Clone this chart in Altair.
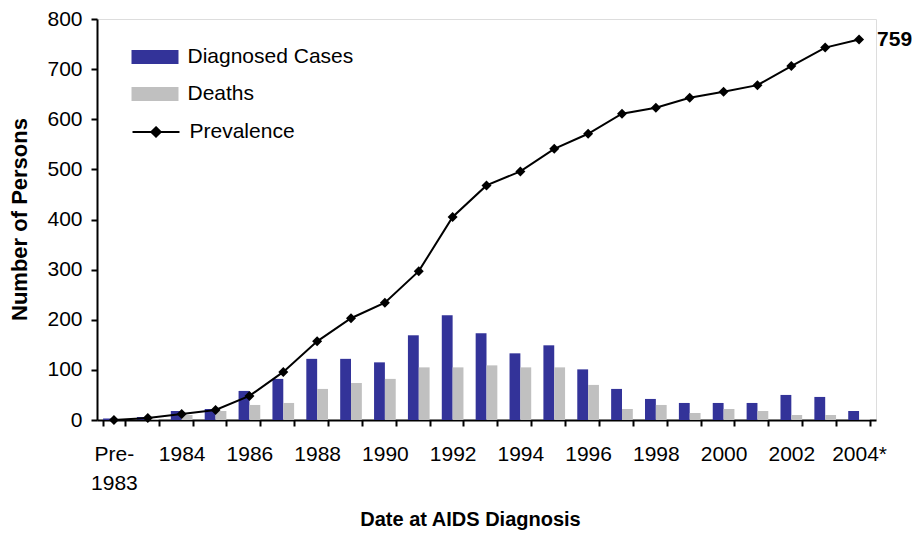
import altair as alt
import pandas as pd

FONT = "Liberation Sans"

categories = ["Pre-1983", "1983", "1984", "1985", "1986", "1987", "1988", "1989",
              "1990", "1991", "1992", "1993", "1994", "1995", "1996", "1997",
              "1998", "1999", "2000", "2001", "2002", "2003", "2004*"]
diagnosed = [3, 6, 18, 22, 58, 82, 122, 122, 115, 169, 209, 173, 133, 149, 101, 62,
             42, 34, 34, 34, 50, 46, 18]
deaths = [1, 2, 10, 18, 30, 34, 62, 74, 82, 105, 105, 109, 105, 105, 70, 22,
          30, 14, 22, 18, 10, 10, 2]
prevalence = [0, 4, 12, 20, 48, 96, 157, 203, 234, 297, 405, 468, 496, 541, 571, 611,
              623, 643, 655, 668, 706, 743, 759]
bar_series = ["Diagnosed Cases", "Deaths"]
bar_colors = ["#333399", "#C0C0C0"]
y_ticks = [0, 100, 200, 300, 400, 500, 600, 700, 800]

shown = categories[::2]
bars_df = pd.DataFrame({
    "year": categories * 2,
    "series": [bar_series[0]] * len(categories) + [bar_series[1]] * len(categories),
    "value": diagnosed + deaths,
})
line_df = pd.DataFrame({"year": categories, "value": prevalence,
                        "series": ["Prevalence"] * len(categories)})
last_df = line_df.tail(1)

shown_list = "[" + ",".join("'" + s + "'" for s in shown) + "]"
label_expr = ("datum.value == 'Pre-1983' ? ['Pre-', '1983'] : "
              "(indexof(" + shown_list + ", datum.value) >= 0 ? datum.value : '')")

x_enc = alt.X(
    "year:N", sort=categories,
    scale=alt.Scale(paddingInner=0.36, paddingOuter=0.18),
    axis=alt.Axis(
        title="Date at AIDS Diagnosis", labelAngle=0, tickBand="extent",
        labelExpr=label_expr, labelOverlap=False, labelFontSize=21, labelFont=FONT,
        labelColor="black", labelPadding=17, labelLineHeight=29, labelBaseline="top",
        tickSize=6, tickWidth=2, tickColor="black", domainColor="black", domainWidth=2,
        titleFontSize=20, titleFont=FONT, titleFontWeight="bold", titleColor="black",
        titleX=373, titleY=99, titleAlign="center", titleBaseline="middle", grid=False,
    ),
)
y_enc = alt.Y(
    "value:Q", scale=alt.Scale(domain=[0, 800], nice=False),
    axis=alt.Axis(
        title="Number of Persons", values=y_ticks, labelFontSize=21, labelFont=FONT,
        labelColor="black", labelPadding=9, tickSize=6, tickWidth=2, tickColor="black",
        domainColor="black", domainWidth=2, grid=False,
        titleFontSize=22, titleFont=FONT, titleFontWeight="bold", titleColor="black",
        titleX=-78, titleY=200, titleAngle=270, titleAlign="center", titleBaseline="middle",
    ),
)

bars = alt.Chart(bars_df).mark_bar().encode(
    x=x_enc,
    xOffset=alt.XOffset("series:N", sort=bar_series,
                        scale=alt.Scale(paddingInner=0, paddingOuter=0)),
    y=y_enc,
    fill=alt.Fill(
        "series:N",
        scale=alt.Scale(domain=bar_series, range=bar_colors),
        legend=alt.Legend(
            title=None, orient="none", legendX=46, legendY=26, direction="vertical",
            symbolType="M-2,-0.6H2V0.6H-2Z", symbolSize=552, symbolStrokeWidth=0,
            labelFontSize=21, labelFont=FONT, labelColor="black", labelOffset=20.5,
            labelLimit=400, rowPadding=15, padding=0,
        ),
    ),
)

line = alt.Chart(line_df).mark_line(strokeWidth=2).encode(
    x=x_enc,
    y=y_enc,
    stroke=alt.Stroke(
        "series:N",
        scale=alt.Scale(domain=["Prevalence"], range=["black"]),
        legend=alt.Legend(
            title=None, orient="none", legendX=46, legendY=100, direction="vertical",
            symbolType="M-2,0H2M0,-0.4L0.4,0L0,0.4L-0.4,0Z", symbolSize=552,
            symbolStrokeWidth=2, symbolStrokeColor="black", symbolFillColor="black",
            labelFontSize=21, labelFont=FONT, labelColor="black", labelOffset=20.5,
            labelLimit=400, padding=0,
        ),
    ),
)

points = alt.Chart(line_df).mark_point(
    shape="diamond", filled=True, size=100, color="black", opacity=1
).encode(x=x_enc, y=y_enc)

end_label = alt.Chart(last_df).mark_text(
    align="left", baseline="middle", dx=18, fontSize=21, fontWeight="bold",
    font=FONT, color="black"
).encode(x=x_enc, y=y_enc, text="value:Q")

chart = alt.layer(bars, line, points, end_label).properties(
    width=779, height=401,
    autosize=alt.AutoSizeParams(type="none"),
    padding={"left": 89, "top": 11, "right": 36, "bottom": 110},
).configure_view(stroke="#808080", strokeWidth=2).configure(font=FONT)

chart.save("out.html", embed_options={"renderer": "svg", "actions": False})
